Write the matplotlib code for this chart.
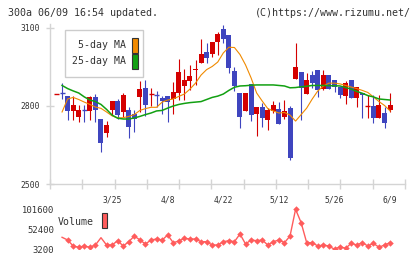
import numpy as np
import matplotlib
matplotlib.use("Agg")
import matplotlib.pyplot as plt
from matplotlib.patches import Rectangle

# ---------------- data ----------------
opens = [2845, 2852, 2838, 2782, 2759, 2786, 2782, 2835, 2750, 2697,
         2785, 2818, 2778, 2785, 2769, 2836, 2868, 2845, 2843, 2830,
         2838, 2827, 2851, 2878, 2896, 2940, 2964, 3007, 2999, 3047,
         3095, 3073, 2935, 2849, 2782, 2885, 2768, 2796, 2748, 2781,
         2787, 2759, 2793, 2902, 2931, 2847, 2919, 2938, 2864, 2919,
         2900, 2873, 2838, 2900, 2832, 2849, 2800, 2801, 2752, 2773,
         2785]
highs = [2846, 2890, 2838, 2838, 2804, 2804, 2838, 2846, 2750, 2742,
         2820, 2826, 2851, 2796, 2785, 2897, 2900, 2868, 2858, 2838,
         2838, 2893, 2980, 2941, 2958, 2977, 3057, 3043, 3045, 3086,
         3113, 3073, 2951, 2849, 2849, 2885, 2795, 2810, 2794, 2818,
         2815, 2823, 2800, 3044, 2931, 2927, 2935, 2938, 2940, 2919,
         2900, 2873, 2898, 2900, 2873, 2849, 2842, 2844, 2841, 2798,
         2851]
lows = [2845, 2828, 2746, 2746, 2740, 2740, 2746, 2740, 2624, 2682,
        2765, 2749, 2759, 2677, 2701, 2778, 2762, 2800, 2797, 2768,
        2740, 2768, 2823, 2823, 2862, 2881, 2964, 2964, 2987, 2996,
        3043, 2928, 2859, 2717, 2782, 2744, 2686, 2719, 2706, 2774,
        2729, 2749, 2592, 2902, 2746, 2847, 2869, 2836, 2862, 2864,
        2855, 2830, 2808, 2832, 2797, 2752, 2752, 2733, 2752, 2717,
        2778]
closes = [2846, 2851, 2782, 2804, 2785, 2785, 2835, 2785, 2658, 2727,
          2820, 2765, 2842, 2719, 2749, 2864, 2804, 2846, 2842, 2820,
          2817, 2855, 2932, 2900, 2915, 2943, 3000, 2983, 3045, 3077,
          3058, 2947, 2878, 2759, 2849, 2765, 2795, 2752, 2785, 2804,
          2729, 2781, 2601, 2950, 2870, 2900, 2887, 2862, 2919, 2865,
          2874, 2842, 2890, 2832, 2873, 2842, 2801, 2752, 2804, 2736,
          2804]
ma5 = [np.nan, 2777, 2827, 2833, 2825, 2815, 2806, 2796, 2791, 2777,
       2762, 2754, 2755, 2760, 2767, 2783, 2790, 2795, 2795, 2815,
       2823, 2827, 2837, 2846, 2865, 2888, 2919, 2940, 2952, 2969,
       3004, 3026, 3025, 2998, 2958, 2908, 2850, 2819, 2790, 2781,
       2773, 2775, 2765, 2742, 2767, 2792, 2827, 2858, 2877, 2888,
       2888, 2885, 2879, 2873, 2867, 2860, 2852, 2835, 2817, 2802,
       2781]
ma25 = [np.nan, 2879, 2867, 2858, 2850, 2835, 2823, 2817, 2806, 2787,
        2765, 2753, 2750, 2750, 2754, 2760, 2767, 2773, 2781, 2783,
        2792, 2800, 2806, 2810, 2813, 2815, 2817, 2825, 2833, 2838,
        2846, 2860, 2872, 2877, 2878, 2880, 2881, 2881, 2881, 2881,
        2879, 2877, 2870, 2871, 2874, 2876, 2879, 2879, 2879, 2878,
        2878, 2877, 2871, 2865, 2856, 2849, 2840, 2835, 2827, 2825,
        2823]
volume = [np.nan, 32720, 26080, 11320, 8120, 11320, 8120, 13780, 31740, 13780,
          13780, 24360, 11320, 21900, 35920, 26080, 16240, 26080, 28540, 26080,
          38380, 19440, 23620, 30260, 28540, 28540, 21900, 21900, 13780, 13780,
          21900, 24360, 21900, 40840, 16240, 26080, 24360, 26080, 13780, 21900,
          26080, 19440, 35920, 101600, 68640, 19440, 19440, 11320, 13780, 11320,
          3200, 9600, 5660, 17960, 13780, 19440, 11320, 17960, 8120, 13780,
          19440]
date_labels = ["3/25", "4/8", "4/22", "5/12", "5/26", "6/9"]
date_index = [10, 20, 30, 40, 50, 60]
price_ticks = [2500, 2800, 3100]
title_left = "300a 06/09 16:54 updated."
title_right = "(C)https://www.rizumu.net/"
legend_labels = ["5-day MA", "25-day MA"]
volume_label = "Volume"

# ---------------- style ----------------
W, H = 420, 259
RED = "#d40000"
BLUE = "#3f45bf"
ORANGE = "#f08a00"
GREEN = "#12a012"
VOLC = "#ff5c5c"
GRID = "#d4d4d4"
TXT = "#333333"
FONT = "DejaVu Sans Mono"
plt.rcParams["font.family"] = FONT

def fx(x):
    return x / W

def fy(y):
    return 1 - y / H

fig = plt.figure(figsize=(W / 100, H / 100), dpi=100)
fig.patch.set_facecolor("white")

# ---------------- price axes ----------------
ax = fig.add_axes([fx(50), fy(184), (405 - 50) / W, (184 - 24) / H])
n = len(opens)
idx = np.arange(n)
step = 5.56
ax.set_xlim((50 - 56.5) / step, (405 - 56.5) / step)
ax.set_ylim(2500, 3100 + 4 * 600 / 156)

for i in range(n):
    o, h, l, c = opens[i], highs[i], lows[i], closes[i]
    col = RED if c >= o else BLUE
    ax.vlines(i, l, h, color=col, lw=0.8, zorder=2)
    if abs(c - o) < 3:
        ax.hlines((o + c) / 2, i - 0.45, i + 0.45, color=col, lw=1.0, zorder=2)
    else:
        ax.bar(i, abs(c - o), bottom=min(o, c), width=0.9, color=col,
               linewidth=0, zorder=2)

ax.plot(idx, ma5, color=ORANGE, lw=0.8, zorder=3)
ax.plot(idx, ma25, color=GREEN, lw=1.1, zorder=3)

for s in ["top", "right"]:
    ax.spines[s].set_visible(False)
for s in ["left", "bottom"]:
    ax.spines[s].set_color(GRID)
    ax.spines[s].set_linewidth(1.0)

ax.set_yticks(price_ticks)
ax.set_yticklabels([str(t) for t in price_ticks])
ax.tick_params(axis="y", direction="inout", length=6, width=1.0, color=GRID,
               labelsize=5.8, labelcolor=TXT, pad=4)
ax.set_xticks(date_index)
ax.set_xticklabels(date_labels)
ax.tick_params(axis="x", which="major", length=0, labelsize=5.8,
               labelcolor=TXT, pad=8)
ax.set_xticks(np.linspace(ax.get_xlim()[0], ax.get_xlim()[1], 12), minor=True)
ax.tick_params(axis="x", which="minor", direction="inout", length=7,
               width=1.0, color=GRID)

# legend box for MAs
fig.patches.append(Rectangle((fx(65), fy(77)), (143 - 65) / W, (77 - 30) / H,
                             transform=fig.transFigure, facecolor="white",
                             edgecolor="#cccccc", lw=1.0, zorder=5))
for k, (lab, col) in enumerate(zip(legend_labels, [ORANGE, GREEN])):
    yc = 45 + k * 16.5
    fig.text(fx(126), fy(yc), lab, ha="right", va="center", fontsize=7.1,
             color=TXT, zorder=6)
    fig.patches.append(Rectangle((fx(132), fy(yc + 7.5)), 6 / W, 15 / H,
                                 transform=fig.transFigure, facecolor=col,
                                 edgecolor="#333333", lw=0.8, zorder=6))

# ---------------- volume axes ----------------
vmin, vmax = np.nanmin(volume), np.nanmax(volume)
vscale = (vmax - vmin) / 40.0
ax2 = fig.add_axes([fx(50), fy(249.3), (405 - 50) / W, (249.3 - 205.8) / H])
ax2.set_xlim(ax.get_xlim())
ax2.set_ylim(vmin, vmax + 3.5 * vscale)
marks = [i for i in range(n) if i not in (0, 1, 8)]
ax2.plot(idx, volume, color=VOLC, lw=1.0, marker="D", markersize=3.3,
         markevery=marks, markeredgewidth=0)
for s in ax2.spines.values():
    s.set_visible(False)
vt = [vmin, (vmin + vmax) / 2, vmax]
ax2.set_yticks(vt)
ax2.set_yticklabels([f"{int(round(v))}" for v in vt])
ax2.tick_params(axis="y", length=0, labelsize=6.4, labelcolor=TXT, pad=-3)
ax2.set_xticks([])

fig.text(fx(58), fy(222), volume_label, ha="left", va="center", fontsize=7.1,
         color=TXT)
fig.patches.append(Rectangle((fx(102), fy(228)), 5.5 / W, 15 / H,
                             transform=fig.transFigure, facecolor=VOLC,
                             edgecolor="#333333", lw=0.8))

# ---------------- header ----------------
fig.text(fx(8), fy(13), title_left, ha="left", va="center", fontsize=7.2,
         color=TXT)
fig.text(fx(411), fy(13), title_right, ha="right", va="center", fontsize=7.2,
         color=TXT)

fig.savefig("out.png", dpi=100, facecolor="white")
